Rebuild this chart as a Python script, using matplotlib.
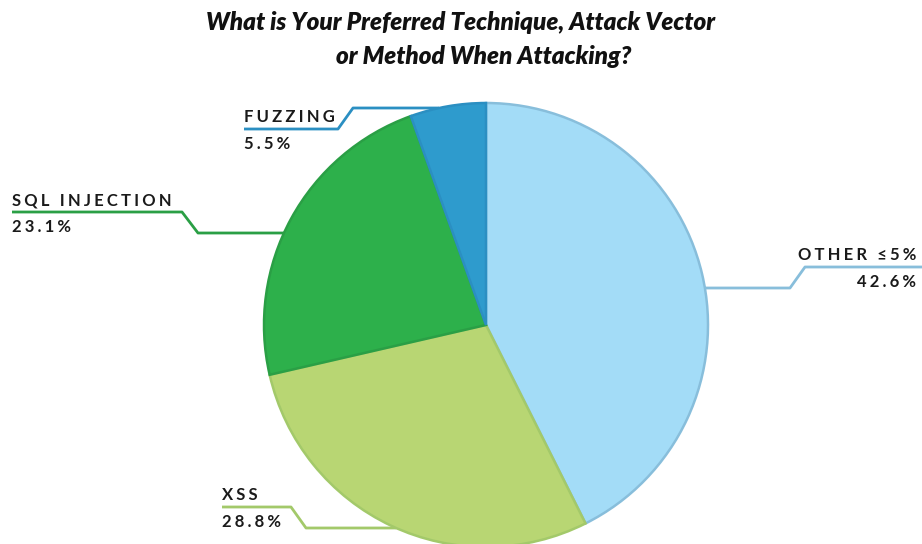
import numpy as np
import matplotlib
matplotlib.use('Agg')
import matplotlib.pyplot as plt

# data
labels = ['OTHER ≤5%', 'XSS', 'SQL INJECTION', 'FUZZING']
values = [42.6, 28.8, 23.1, 5.5]
fill_colors = ['#a3dcf7', '#b8d673', '#2db04b', '#2e9bcd']
edge_colors = ['#88bedb', '#a3c96a', '#2a9f45', '#2b8fc2']

W, H = 922, 544
cx, cy, r = 486, 325, 222  # pie centre / radius in pixels (from top)
FONT = ['Lato', 'DejaVu Sans']


def Y(y):
    return H - y


def spaced(s):
    return '\u2009\u200a'.join(s)


fig = plt.figure(figsize=(W / 100, H / 100), dpi=100)
ax = fig.add_axes([0, 0, 1, 1])

ax.pie(values, colors=fill_colors, startangle=90, counterclock=False,
       center=(cx, Y(cy)), radius=r, frame=True,
       wedgeprops=dict(linewidth=1.8, zorder=2))
for w, ec in zip(ax.patches, edge_colors):
    w.set_edgecolor(ec)
ax.set_xlim(0, W)
ax.set_ylim(0, H)
ax.set_aspect('equal')
ax.axis('off')

# leader layout: (y at pie, elbow x near pie, elbow x near label, y at label, label x, side)
leaders = {
    'OTHER ≤5%': (288, 790, 805, 267, 916, 'right'),
    'XSS': (528, 306, 291, 507, 222, 'left'),
    'SQL INJECTION': (233, 198, 182, 212, 12, 'left'),
    'FUZZING': (108, 353, 338, 129, 244, 'left'),
}

for lab, val, ec in zip(labels, values, edge_colors):
    y0, xa, xb, y1, xt, side = leaders[lab]
    dx = np.sqrt(r ** 2 - (y0 - cy) ** 2)
    x0 = cx + dx if side == 'right' else cx - dx
    xe = W if side == 'right' else xt
    ax.plot([x0, xa, xb, xe], [Y(y0), Y(y0), Y(y1), Y(y1)],
            color=ec, lw=2, solid_capstyle='butt', zorder=1)
    ax.text(xt, Y(y1 - 7), spaced(lab), ha=side, va='baseline',
            fontsize=12, fontweight='bold', color='#1a1a1a', family=FONT)
    ax.text(xt, Y(y1 + 20), spaced('%.1f%%' % val), ha=side, va='baseline',
            fontsize=12, fontweight='bold', color='#1a1a1a', family=FONT)

ax.text(461, Y(22), 'What is Your Preferred Technique, Attack Vector',
        ha='center', va='center', fontsize=17.5, fontweight='heavy',
        style='italic', color='#111111', family=FONT)
ax.text(484, Y(57), 'or Method When Attacking?',
        ha='center', va='center', fontsize=17.5, fontweight='heavy',
        style='italic', color='#111111', family=FONT)

fig.savefig('out.png', dpi=100)
